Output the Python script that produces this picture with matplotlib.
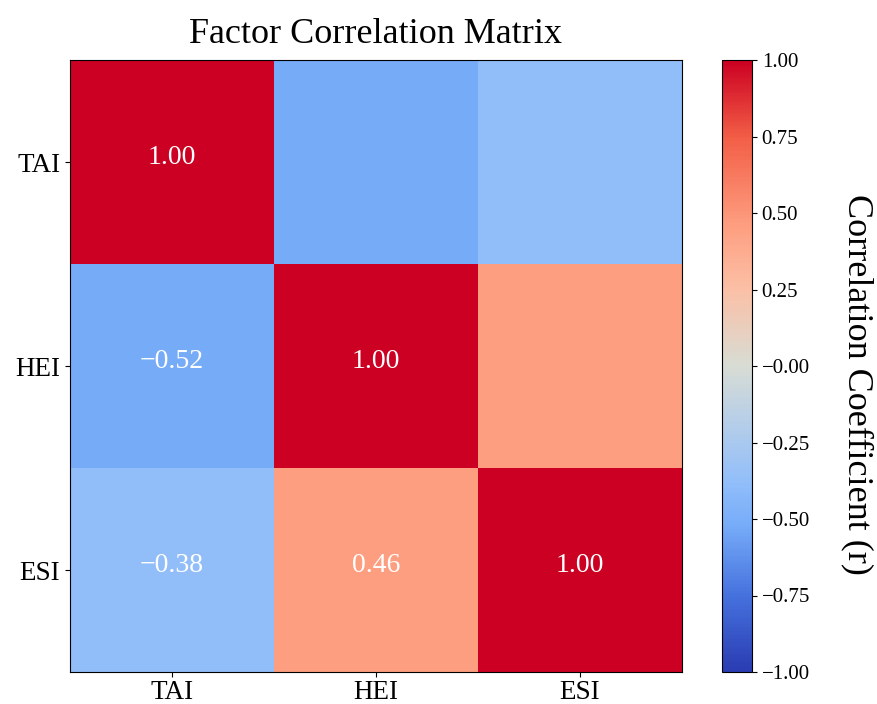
import numpy as np
import matplotlib
matplotlib.use("Agg")
import matplotlib.pyplot as plt
from matplotlib.colors import LinearSegmentedColormap

plt.rcParams['font.family'] = ['Liberation Serif', 'DejaVu Serif']

factors = ["TAI", "HEI", "ESI"]
corr = np.array([
    [1.00, -0.52, -0.38],
    [-0.52, 1.00, 0.46],
    [-0.38, 0.46, 1.00],
])

def pos(v):
    return (v + 1) / 2

cmap = LinearSegmentedColormap.from_list(
    "corr", [(pos(-1.0), "#2a3cb2"), (pos(-0.75), "#4672de"), (pos(-0.52), "#77acf9"),
             (pos(-0.38), "#92befa"), (pos(-0.2), "#b3cdea"), (pos(0.0), "#d8dcd4"),
             (pos(0.25), "#fbc0a6"), (pos(0.46), "#fe9e80"), (pos(0.75), "#f25e46"),
             (pos(1.0), "#cc0022")])

fig = plt.figure(figsize=(8.77, 7.04), dpi=100)
ax = fig.add_axes([70/877, 1-672/704, 612/877, 612/704])
cax = fig.add_axes([722/877, 1-672/704, 30/877, 612/704])

im = ax.imshow(corr, cmap=cmap, vmin=-1, vmax=1, interpolation='nearest', aspect='auto')
ax.set_xticks(range(len(factors)))
ax.set_yticks(range(len(factors)))
ax.set_xticklabels(factors, fontsize=19.5)
ax.set_yticklabels(factors, fontsize=19.5)
ax.tick_params(axis='x', pad=2.5)
ax.set_title("Factor Correlation Matrix", fontsize=26, pad=12)

n = len(factors)
for i in range(n):
    for j in range(n):
        if j <= i:
            ax.text(j, i - 0.02, f"{corr[i, j]:.2f}".replace("-", "\u2212"),
                    ha='center', va='center', color='white', fontsize=20)

ticks = np.linspace(-1, 1, 9)
cb = fig.colorbar(im, cax=cax)
cb.set_ticks(ticks)
cb.set_ticklabels([f"{t:.2f}".replace("-", "\u2212") if abs(t) > 1e-9 else "\u22120.00" for t in ticks])
cb.ax.tick_params(labelsize=15)
cax.text(4.5, 0.47, "Correlation Coefficient (r)", transform=cax.transAxes,
         rotation=270, ha='center', va='center', fontsize=26)

fig.savefig("out.png", dpi=100)
